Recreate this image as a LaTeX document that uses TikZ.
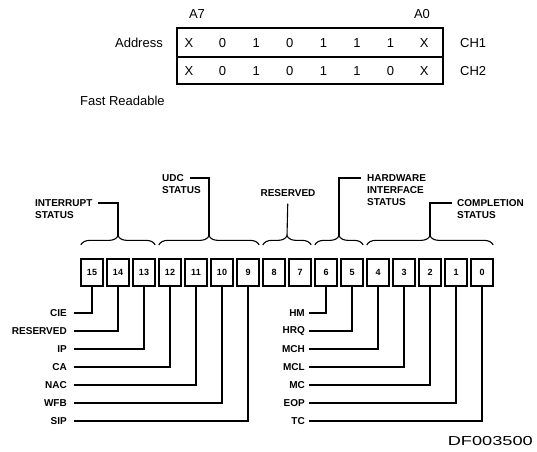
\documentclass[tikz,border=0pt]{standalone}
\usepackage{fontspec}
\setmainfont{Liberation Sans}
\usetikzlibrary{calc,decorations.pathreplacing}

\begin{document}
\begin{tikzpicture}[x=1pt,y=-1pt]
\tikzset{
  plain/.style={font=\fontsize{13}{15}\selectfont,inner sep=0pt},
  tag/.style={font=\bfseries\fontsize{10}{12}\selectfont,inner sep=0pt},
  bitbox/.style={draw,line width=1.8pt,minimum width=22.5pt,minimum height=27.5pt,inner sep=0pt,font=\bfseries\fontsize{9}{10}\selectfont},
  lead/.style={line width=1.1pt},
  grpbrace/.style={line width=1.1pt,decorate,decoration={brace,amplitude=9pt}}
}
\useasboundingbox (0,0) rectangle (537,451);
% address table
\draw[line width=1.6pt] (177,28) rectangle (443,84);
\draw[line width=1.3pt] (177,57) -- (443,57);
\node[plain] (n_A7) at (197,14) {A7};
\node[plain] (n_A0) at (422,14) {A0};
\node[plain,anchor=east] (n_addr) at (163,43) {Address};
\node[plain,anchor=west] (n_ch1) at (460,43) {CH1};
\node[plain,anchor=west] (n_ch2) at (460,71) {CH2};
\node[plain] (n_r1c7) at (189.0,43) {X};
\node[plain] (n_r1c6) at (222.6,43) {0};
\node[plain] (n_r1c5) at (256.2,43) {1};
\node[plain] (n_r1c4) at (289.8,43) {0};
\node[plain] (n_r1c3) at (323.4,43) {1};
\node[plain] (n_r1c2) at (357.0,43) {1};
\node[plain] (n_r1c1) at (390.6,43) {1};
\node[plain] (n_r1c0) at (424.2,43) {X};
\node[plain] (n_r2c7) at (189.0,71) {X};
\node[plain] (n_r2c6) at (222.6,71) {0};
\node[plain] (n_r2c5) at (256.2,71) {1};
\node[plain] (n_r2c4) at (289.8,71) {0};
\node[plain] (n_r2c3) at (323.4,71) {1};
\node[plain] (n_r2c2) at (357.0,71) {1};
\node[plain] (n_r2c1) at (390.6,71) {0};
\node[plain] (n_r2c0) at (424.2,71) {X};
\node[plain,anchor=west] (n_fast) at (80,101) {Fast Readable};
% status register bits
\node[bitbox] (b15) at (92,272.5) {15};
\node[bitbox] (b14) at (118,272.5) {14};
\node[bitbox] (b13) at (144,272.5) {13};
\node[bitbox] (b12) at (170,272.5) {12};
\node[bitbox] (b11) at (196,272.5) {11};
\node[bitbox] (b10) at (222,272.5) {10};
\node[bitbox] (b9) at (248,272.5) {9};
\node[bitbox] (b8) at (274,272.5) {8};
\node[bitbox] (b7) at (300,272.5) {7};
\node[bitbox] (b6) at (326,272.5) {6};
\node[bitbox] (b5) at (352,272.5) {5};
\node[bitbox] (b4) at (378,272.5) {4};
\node[bitbox] (b3) at (404,272.5) {3};
\node[bitbox] (b2) at (430,272.5) {2};
\node[bitbox] (b1) at (456,272.5) {1};
\node[bitbox] (b0) at (482,272.5) {0};
% group braces
\draw[grpbrace] ([xshift=1pt,yshift=13pt]b15.north west) -- ([xshift=-1pt,yshift=13pt]b13.north east);
\draw[grpbrace] ([xshift=1pt,yshift=13pt]b12.north west) -- ([xshift=-1pt,yshift=13pt]b9.north east);
\draw[grpbrace] ([xshift=1pt,yshift=13pt]b8.north west) -- ([xshift=-1pt,yshift=13pt]b7.north east);
\draw[grpbrace] ([xshift=1pt,yshift=13pt]b6.north west) -- ([xshift=-1pt,yshift=13pt]b5.north east);
\draw[grpbrace] ([xshift=1pt,yshift=13pt]b4.north west) -- ([xshift=-1pt,yshift=13pt]b0.north east);
\coordinate (t_int) at ([yshift=22pt]b14.north);
\coordinate (t_udc) at ([yshift=22pt]$(b12.north)!0.5!(b9.north)$);
\coordinate (t_res) at ([yshift=22pt]$(b8.north)!0.5!(b7.north)$);
\coordinate (t_hw) at ([yshift=22pt]$(b6.north)!0.5!(b5.north)$);
\coordinate (t_cpl) at ([yshift=22pt]b2.north);
% group headings
\node[tag,anchor=west] (g_int) at (35,203) {INTERRUPT};
\node[tag,anchor=west] (g_int2) at (35,215) {STATUS};
\node[tag,anchor=west] (g_udc) at (162,178) {UDC};
\node[tag,anchor=west] (g_udc2) at (162,190) {STATUS};
\node[tag] (g_res) at (288,193) {RESERVED};
\node[tag,anchor=west] (g_hw) at (367,178) {HARDWARE};
\node[tag,anchor=west] (g_hw2) at (367,190) {INTERFACE};
\node[tag,anchor=west] (g_hw3) at (367,202) {STATUS};
\node[tag,anchor=west] (g_cpl) at (457,203) {COMPLETION};
\node[tag,anchor=west] (g_cpl2) at (457,215) {STATUS};
\draw[lead,shorten >=5pt] (t_int) |- (g_int);
\draw[lead,shorten >=6pt] (t_udc) |- (g_udc);
\draw[lead,shorten >=7pt] (t_res) -- (g_res);
\draw[lead,shorten >=6pt] (t_hw) |- (g_hw);
\draw[lead,shorten >=5pt] (t_cpl) |- (g_cpl);
% bit names
\node[tag,anchor=east] (l_cie) at (67,313) {CIE};
\node[tag,anchor=east] (l_rsv) at (67,331) {RESERVED};
\node[tag,anchor=east] (l_ip) at (67,349) {IP};
\node[tag,anchor=east] (l_ca) at (67,367) {CA};
\node[tag,anchor=east] (l_nac) at (67,385) {NAC};
\node[tag,anchor=east] (l_wfb) at (67,403) {WFB};
\node[tag,anchor=east] (l_sip) at (67,421) {SIP};
\node[tag,anchor=east] (l_hm) at (305,313) {HM};
\node[tag,anchor=east] (l_hrq) at (305,331) {HRQ};
\node[tag,anchor=east] (l_mch) at (305,349) {MCH};
\node[tag,anchor=east] (l_mcl) at (305,367) {MCL};
\node[tag,anchor=east] (l_mc) at (305,385) {MC};
\node[tag,anchor=east] (l_eop) at (305,403) {EOP};
\node[tag,anchor=east] (l_tc) at (305,421) {TC};
\draw[lead,shorten <=7pt] (l_cie) -| (b15);
\draw[lead,shorten <=7pt] (l_rsv) -| (b14);
\draw[lead,shorten <=7pt] (l_ip) -| (b13);
\draw[lead,shorten <=7pt] (l_ca) -| (b12);
\draw[lead,shorten <=7pt] (l_nac) -| (b11);
\draw[lead,shorten <=7pt] (l_wfb) -| (b10);
\draw[lead,shorten <=7pt] (l_sip) -| (b9);
\draw[lead,shorten <=4pt] (l_hm) -| (b6);
\draw[lead,shorten <=4pt] (l_hrq) -| (b5);
\draw[lead,shorten <=4pt] (l_mch) -| (b4);
\draw[lead,shorten <=4pt] (l_mcl) -| (b3);
\draw[lead,shorten <=4pt] (l_mc) -| (b2);
\draw[lead,shorten <=4pt] (l_eop) -| (b1);
\draw[lead,shorten <=4pt] (l_tc) -| (b0);
\node[plain,anchor=east] (n_df) at (533,441) {\scalebox{1.4}[1]{DF003500}};
\end{tikzpicture}
\end{document}
